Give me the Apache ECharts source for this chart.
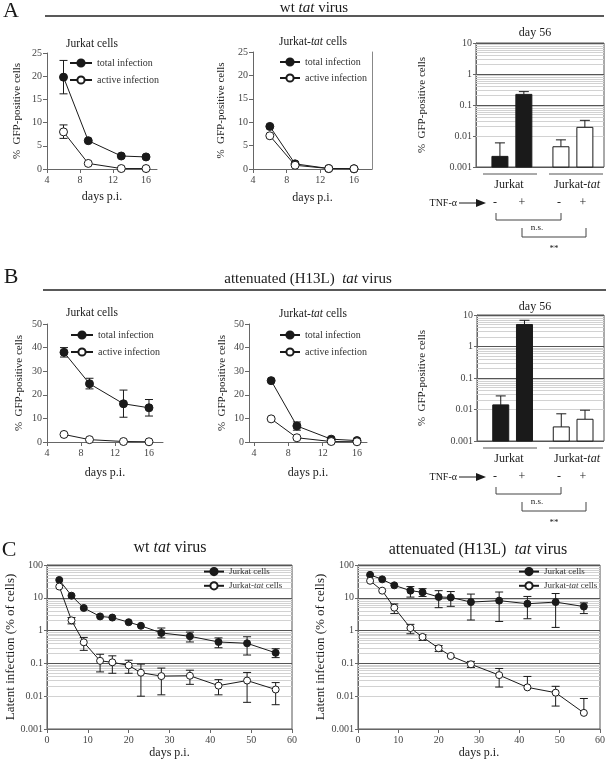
<!DOCTYPE html>
<html><head><meta charset="utf-8">
<script src="https://cdn.jsdelivr.net/npm/echarts@6/dist/echarts.min.js"></script>
<style>html,body{margin:0;padding:0;background:#fff}#c{width:608px;height:760px}</style>
</head><body><div id="c"></div>
<script>
// ---------------- data ----------------
const daysAB = [6, 9, 13, 16];
const abTicks = [4, 8, 12, 16];

const aJurTotal = [19.8, 6.1, 2.8, 2.6];
const aJurTotalLo = [16.2, null, null, null];
const aJurTotalHi = [23.4, null, null, null];
const aJurActive = [8.0, 1.2, 0.1, 0.1];
const aJurActiveLo = [6.6, null, null, null];
const aJurActiveHi = [9.5, null, null, null];

const aTatTotal = [9.1, 1.1, 0.1, 0.05];
const aTatActive = [7.1, 0.8, 0.1, 0.05];

const bJurTotal = [38.0, 24.7, 16.2, 14.5];
const bJurTotalLo = [36.0, 22.5, 10.5, 11.0];
const bJurTotalHi = [40.0, 27.0, 22.0, 18.0];
const bJurActive = [3.2, 1.0, 0.2, 0.1];

const bTatTotal = [26.0, 6.8, 1.2, 0.6];
const bTatTotalLo = [null, 5.0, null, null];
const bTatTotalHi = [null, 8.5, null, null];
const bTatActive = [9.8, 1.8, 0.2, 0.1];

const barGroups = ['Jurkat', 'Jurkat-tat'];
const tnfSigns = ['-', '+', '-', '+'];
const barSlots = [1, 2, 3.55, 4.55];
const aBarValues = [0.0022, 0.22, 0.0045, 0.019];
const aBarErrHi = [0.006, 0.27, 0.0075, 0.032];
const bBarValues = [0.014, 5.0, 0.0028, 0.0049];
const bBarErrHi = [0.027, 6.8, 0.0073, 0.0095];

const cDays = [3, 6, 9, 13, 16, 20, 23, 28, 35, 42, 49, 56];
const cTicks = [0, 10, 20, 30, 40, 50, 60];
const cWtJur   = [35, 11.6, 4.9, 2.7, 2.5, 1.8, 1.4, 0.85, 0.67, 0.45, 0.41, 0.21];
const cWtJurLo = [null, null, null, null, null, null, null, 0.6, 0.45, 0.3, 0.18, 0.15];
const cWtJurHi = [null, null, null, null, null, null, null, 1.2, 0.9, 0.6, 0.65, 0.28];
const cWtTat   = [22, 2.05, 0.44, 0.12, 0.108, 0.087, 0.052, 0.041, 0.042, 0.021, 0.030, 0.016];
const cWtTatLo = [null, 1.6, 0.25, 0.055, 0.05, 0.05, 0.01, 0.011, 0.023, 0.011, 0.0065, 0.0055];
const cWtTatHi = [null, 2.5, 0.62, 0.19, 0.17, 0.125, 0.095, 0.072, 0.062, 0.032, 0.053, 0.026];
const cAttJur   = [50, 36.5, 24, 16.5, 14.7, 10.6, 10.3, 7.4, 8.2, 6.6, 7.4, 5.4];
const cAttJurLo = [null, null, null, 10.5, 11, 5, 5.5, 2.1, 1.9, 2.3, 1.25, 3.3];
const cAttJurHi = [null, null, null, 22, 19, 16.5, 15.5, 13, 15, 11, 13.5, 7];
const cAttTat   = [33, 16.5, 5.0, 1.2, 0.64, 0.29, 0.168, 0.094, 0.044, 0.0186, 0.0128, 0.0031];
const cAttTatLo = [null, null, 3.3, 0.8, 0.5, 0.23, null, 0.075, 0.019, null, 0.005, null];
const cAttTatHi = [null, null, 6.5, 1.55, 0.75, 0.35, null, 0.115, 0.07, 0.04, 0.02, 0.0085];

// ---------------- styling ----------------
const FONT = '"Liberation Serif","DejaVu Serif","Times New Roman",serif';
const INK = '#1a1a1a';
const AXC = '#666';
const LBL = '#444';

const chart = echarts.init(document.getElementById('c'), null, {renderer: 'canvas'});

function fmtLog(v) { return String(Number(v.toPrecision(4))); }

function linX(gi, min, max, gap, ticks) {
  return {type: 'value', gridIndex: gi, min, max,
    name: 'days p.i.', nameLocation: 'middle', nameGap: gap,
    nameTextStyle: {fontFamily: FONT, fontSize: 12, color: INK},
    axisLine: {show: true, onZero: false, lineStyle: {color: AXC}},
    axisTick: {show: true, length: 4, lineStyle: {color: AXC}, customValues: ticks},
    axisLabel: {customValues: ticks, fontFamily: FONT, fontSize: 10, color: LBL, margin: 6},
    splitLine: {show: false}};
}
function linY(gi, max, interval, gap) {
  return {type: 'value', gridIndex: gi, min: 0, max, interval,
    name: '%  GFP-positive cells', nameLocation: 'middle', nameGap: gap,
    nameTextStyle: {fontFamily: FONT, fontSize: 11, color: INK},
    axisLine: {show: true, lineStyle: {color: AXC}},
    axisTick: {show: true, length: 4, lineStyle: {color: AXC}},
    axisLabel: {fontFamily: FONT, fontSize: 10, color: LBL, margin: 5},
    splitLine: {show: false}};
}
function logY(gi, min, max, gap, name, fs) {
  return {type: 'log', logBase: 10, gridIndex: gi, min, max,
    name, nameLocation: 'middle', nameGap: gap,
    nameTextStyle: {fontFamily: FONT, fontSize: fs, color: INK},
    axisLine: {show: true, lineStyle: {color: AXC}},
    axisTick: {show: true, length: 3, lineStyle: {color: AXC}},
    axisLabel: {fontFamily: FONT, fontSize: 10, color: LBL, margin: 4, formatter: fmtLog},
    splitLine: {show: true, lineStyle: {color: '#555', width: 1}}};
}
function hiddenX(gi, max) {
  return {type: 'value', gridIndex: gi, min: 0, max, axisLine: {show: false}, axisTick: {show: false},
    axisLabel: {show: false}, splitLine: {show: false}};
}

function lineSeries(name, gi, xs, ys, filled, size) {
  return {type: 'line', name, xAxisIndex: gi, yAxisIndex: gi, animation: false, z: 4,
    data: xs.map((x, i) => [x, ys[i]]),
    symbol: 'circle', symbolSize: size, showSymbol: true,
    lineStyle: {color: INK, width: 1},
    itemStyle: {color: filled ? INK : '#fff', borderColor: INK, borderWidth: 1}};
}
function errSeries(gi, xs, ys, lo, hi, cap) {
  const data = [];
  xs.forEach((x, i) => {
    if (hi[i] != null || lo[i] != null) {
      data.push([x, lo[i] != null ? lo[i] : ys[i], hi[i] != null ? hi[i] : ys[i], lo[i] != null ? 1 : 0, hi[i] != null ? 1 : 0]);
    }
  });
  return {type: 'custom', xAxisIndex: gi, yAxisIndex: gi, z: 3, silent: true, animation: false,
    data, encode: {x: 0, y: [1, 2]},
    renderItem(params, api) {
      const x = api.value(0);
      const p0 = api.coord([x, api.value(1)]);
      const p1 = api.coord([x, api.value(2)]);
      const st = {stroke: INK, lineWidth: 1};
      const ch = [{type: 'line', shape: {x1: p0[0], y1: p0[1], x2: p1[0], y2: p1[1]}, style: st}];
      if (api.value(3)) ch.push({type: 'line', shape: {x1: p0[0] - cap, y1: p0[1], x2: p0[0] + cap, y2: p0[1]}, style: st});
      if (api.value(4)) ch.push({type: 'line', shape: {x1: p1[0] - cap, y1: p1[1], x2: p1[0] + cap, y2: p1[1]}, style: st});
      return {type: 'group', children: ch};
    }};
}
function barSeries(gi, vals, fills) {
  return {type: 'custom', xAxisIndex: gi, yAxisIndex: gi, z: 4, silent: true, animation: false,
    data: barSlots.map((x, i) => [x, vals[i]]), encode: {x: 0, y: 1},
    renderItem(params, api) {
      const x = api.value(0);
      const top = api.coord([x, api.value(1)]);
      const cs = params.coordSys;
      const bottom = cs.y + cs.height;
      const w = 16;
      return {type: 'rect', shape: {x: top[0] - w / 2, y: top[1], width: w, height: bottom - top[1]},
        style: {fill: fills[params.dataIndex], stroke: INK, lineWidth: 1}};
    }};
}
function barErrSeries(gi, vals, hi) {
  return {type: 'custom', xAxisIndex: gi, yAxisIndex: gi, z: 3, silent: true, animation: false,
    data: barSlots.map((x, i) => [x, vals[i], hi[i]]), encode: {x: 0, y: [1, 2]},
    renderItem(params, api) {
      const x = api.value(0);
      const p0 = api.coord([x, api.value(1)]);
      const p1 = api.coord([x, api.value(2)]);
      const st = {stroke: INK, lineWidth: 1};
      return {type: 'group', children: [
        {type: 'line', shape: {x1: p0[0], y1: p0[1], x2: p1[0], y2: p1[1]}, style: st},
        {type: 'line', shape: {x1: p1[0] - 5, y1: p1[1], x2: p1[0] + 5, y2: p1[1]}, style: st}]};
    }};
}
function minorGrid(gi, kmin, kmax, x0, y0) {
  const vals = [];
  for (let k = kmin; k <= kmax; k++) for (let m = 2; m <= 9; m++) vals.push(m * Math.pow(10, k));
  return {type: 'line', xAxisIndex: gi, yAxisIndex: gi, data: [[x0, y0]], symbol: 'none',
    lineStyle: {opacity: 0}, silent: true, z: 1, animation: false,
    markLine: {silent: true, z: 1, symbol: 'none', animation: false, label: {show: false},
      lineStyle: {color: '#d2d2d2', width: 1, type: 'solid'},
      emphasis: {disabled: true},
      data: vals.map(v => ({yAxis: v}))}};
}
function legend(left, top, names, gap, itemW, fs) {
  return {left, top, orient: 'vertical', padding: 0, itemGap: gap, itemWidth: itemW, itemHeight: 9, z: 6,
    data: names, selectedMode: false,
    textStyle: {fontFamily: FONT, fontSize: fs, color: '#333', rich: {i: {fontStyle: 'italic', fontFamily: FONT, fontSize: fs, color: '#333'}}},
    formatter: n => n.replace('-tat', '-{i|tat}')};
}

// text helper
function T(x, y, text, size, extra) {
  return Object.assign({type: 'text', x, y, silent: true,
    style: {text, fontSize: size, fontFamily: FONT, fill: INK, align: 'center', verticalAlign: 'middle',
      rich: {i: {fontStyle: 'italic', fontSize: size, fontFamily: FONT, fill: INK}}}}, extra || {});
}
function L(x1, y1, x2, y2, color, w) {
  return {type: 'line', silent: true, shape: {x1, y1, x2, y2}, style: {stroke: color || '#444', lineWidth: w || 1}};
}
function barAnnot(dy) {
  const g = [];
  g.push(L(483, 174 + dy, 537, 174 + dy, '#555'));
  g.push(L(549, 174 + dy, 603, 174 + dy, '#555'));
  g.push(T(509, 185 + dy, barGroups[0], 12));
  g.push(T(577, 185 + dy, barGroups[1].replace('-tat', '-{i|tat}'), 12));
  g.push(T(457, 203 + dy, 'TNF-α', 10, {style: {text: 'TNF-α', fontSize: 10, fontFamily: FONT, fill: INK, align: 'right', verticalAlign: 'middle'}}));
  g.push(L(459, 203 + dy, 478, 203 + dy, INK));
  g.push({type: 'polygon', silent: true, shape: {points: [[476, 199 + dy], [486, 203 + dy], [476, 207 + dy]]}, style: {fill: INK}});
  const signX = [495, 522, 559, 583];
  tnfSigns.forEach((s, i) => g.push(T(signX[i], 203 + dy, s, 12)));
  g.push({type: 'polyline', silent: true, shape: {points: [[496, 213 + dy], [496, 220 + dy], [561, 220 + dy], [561, 213 + dy]]}, style: {stroke: '#444', lineWidth: 1, fill: null}});
  g.push(T(537, 228 + dy, 'n.s.', 9));
  g.push({type: 'polyline', silent: true, shape: {points: [[522, 228 + dy], [522, 237 + dy], [586, 237 + dy], [586, 228 + dy]]}, style: {stroke: '#444', lineWidth: 1, fill: null}});
  g.push(T(554, 249 + dy, '**', 9));
  return g;
}

const boxed = {show: true, borderColor: '#555', borderWidth: 1, backgroundColor: 'transparent'};
const grids = [
  {left: 47, top: 53, width: 110, height: 116},
  {left: 253, top: 52, width: 119, height: 117},
  Object.assign({left: 476, top: 43, width: 128, height: 124}, boxed),
  {left: 47, top: 324, width: 116, height: 118},
  {left: 249, top: 324, width: 118, height: 118},
  Object.assign({left: 477, top: 315, width: 127, height: 126}, boxed),
  Object.assign({left: 47, top: 565, width: 245, height: 164}, boxed),
  Object.assign({left: 358, top: 565, width: 245, height: 164}, boxed)
];

const xAxes = [
  linX(0, 4, 17.33, 22, abTicks),
  linX(1, 4, 18.14, 23, abTicks),
  hiddenX(2, 5.35),
  linX(3, 4, 17.65, 25, abTicks),
  linX(4, 3.42, 17.17, 25, abTicks),
  hiddenX(5, 5.35),
  linX(6, 0, 60, 18, cTicks),
  linX(7, 0, 60, 18, cTicks)
];
const yAxes = [
  linY(0, 25, 5, 24),
  linY(1, 25, 5, 26),
  logY(2, 0.001, 10, 48, '%  GFP-positive cells', 11),
  linY(3, 50, 10, 22),
  linY(4, 50, 10, 21),
  logY(5, 0.001, 10, 49, '%  GFP-positive cells', 11),
  logY(6, 0.001, 100, 30, 'Latent infection (% of cells)', 13),
  logY(7, 0.001, 100, 31, 'Latent infection (% of cells)', 13),
  {type: 'value', gridIndex: 1, position: 'right', min: 0, max: 1, axisLine: {show: true, lineStyle: {color: '#888'}},
    axisTick: {show: false}, axisLabel: {show: false}, splitLine: {show: false}}
];

const series = [
  // A left
  errSeries(0, daysAB, aJurTotal, aJurTotalLo, aJurTotalHi, 4),
  errSeries(0, daysAB, aJurActive, aJurActiveLo, aJurActiveHi, 4),
  lineSeries('total infection', 0, daysAB, aJurTotal, true, 8),
  lineSeries('active infection', 0, daysAB, aJurActive, false, 8),
  // A mid
  lineSeries('total infection', 1, daysAB, aTatTotal, true, 8),
  lineSeries('active infection', 1, daysAB, aTatActive, false, 8),
  // A right
  minorGrid(2, -3, 0, 0, 0.001),
  barErrSeries(2, aBarValues, aBarErrHi),
  barSeries(2, aBarValues, [INK, INK, '#fff', '#fff']),
  // B left
  errSeries(3, daysAB, bJurTotal, bJurTotalLo, bJurTotalHi, 4),
  lineSeries('total infection', 3, daysAB, bJurTotal, true, 8),
  lineSeries('active infection', 3, daysAB, bJurActive, false, 8),
  // B mid
  errSeries(4, daysAB, bTatTotal, bTatTotalLo, bTatTotalHi, 4),
  lineSeries('total infection', 4, daysAB, bTatTotal, true, 8),
  lineSeries('active infection', 4, daysAB, bTatActive, false, 8),
  // B right
  minorGrid(5, -3, 0, 0, 0.001),
  barErrSeries(5, bBarValues, bBarErrHi),
  barSeries(5, bBarValues, [INK, INK, '#fff', '#fff']),
  // C left
  minorGrid(6, -3, 1, 0, 0.001),
  errSeries(6, cDays, cWtJur, cWtJurLo, cWtJurHi, 4),
  errSeries(6, cDays, cWtTat, cWtTatLo, cWtTatHi, 4),
  lineSeries('Jurkat cells', 6, cDays, cWtJur, true, 7),
  lineSeries('Jurkat-tat cells', 6, cDays, cWtTat, false, 7),
  // C right
  minorGrid(7, -3, 1, 0, 0.001),
  errSeries(7, cDays, cAttJur, cAttJurLo, cAttJurHi, 4),
  errSeries(7, cDays, cAttTat, cAttTatLo, cAttTatHi, 4),
  lineSeries('Jurkat cells', 7, cDays, cAttJur, true, 7),
  lineSeries('Jurkat-tat cells', 7, cDays, cAttTat, false, 7)
];

const legends = [
  legend(69, 58, ['total infection', 'active infection'], 7, 22, 10),
  legend(279, 57, ['total infection', 'active infection'], 6, 20, 10),
  legend(70, 330, ['total infection', 'active infection'], 7, 22, 10),
  legend(279, 330, ['total infection', 'active infection'], 7, 20, 10),
  legend(203, 567, ['Jurkat cells', 'Jurkat-tat cells'], 5, 20, 9),
  legend(518, 567, ['Jurkat cells', 'Jurkat-tat cells'], 5, 20, 9)
];

const graphics = [
  T(11, 11, 'A', 22),
  T(314, 8, 'wt {i|tat} virus', 15),
  L(45, 16, 604, 16, '#222', 1.3),
  T(92, 44, 'Jurkat cells', 11.5),
  T(313, 42, 'Jurkat-{i|tat} cells', 11.5),
  T(535, 33, 'day 56', 12),
  T(11, 277, 'B', 22),
  T(308, 279, 'attenuated (H13L)  {i|tat} virus', 15),
  L(43, 290, 606, 290, '#222', 1.3),
  T(92, 313, 'Jurkat cells', 11.5),
  T(313, 314, 'Jurkat-{i|tat} cells', 11.5),
  T(535, 307, 'day 56', 12),
  T(9, 550, 'C', 22),
  T(170, 548, 'wt {i|tat} virus', 16),
  T(478, 550, 'attenuated (H13L)  {i|tat} virus', 16)
].concat(barAnnot(0), barAnnot(274));

chart.setOption({
  animation: false,
  backgroundColor: '#fff',
  grid: grids,
  xAxis: xAxes,
  yAxis: yAxes,
  legend: legends,
  series,
  graphic: {elements: graphics}
});
</script>
</body></html>
